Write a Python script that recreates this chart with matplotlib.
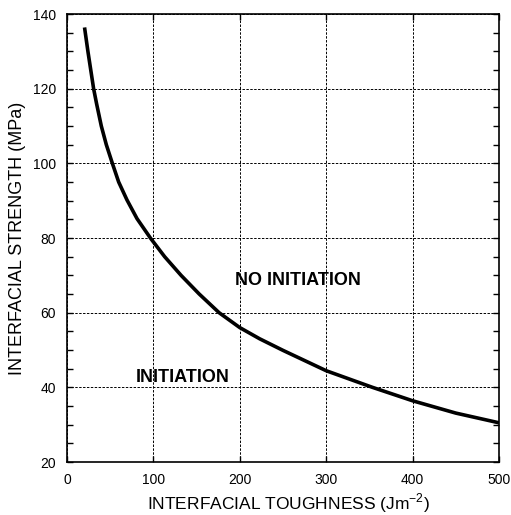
import matplotlib
matplotlib.use("Agg")
import matplotlib.pyplot as plt
from matplotlib.ticker import MultipleLocator

toughness = [20.3, 24.2, 30.8, 34.3, 39.7, 45.5, 52.5, 59.8, 69.4, 81, 96.5, 113, 132, 153, 176,
             200, 223, 250, 300, 353.5, 400, 450, 500]
strength = [136.4, 130, 120, 115.9, 110, 105, 100, 95, 90.2, 85.2, 80, 75, 70, 65, 60,
            56, 53.0, 49.9, 44.45, 40, 36.4, 33.1, 30.5]

xticks = [0, 100, 200, 300, 400, 500]
yticks = [20, 40, 60, 80, 100, 120, 140]

plt.rcParams['font.family'] = ['Liberation Sans', 'DejaVu Sans']
plt.rcParams['mathtext.fontset'] = 'custom'
plt.rcParams['mathtext.rm'] = 'Liberation Sans'

fig = plt.figure(figsize=(5.11, 5.15), dpi=100)
ax = fig.add_axes([67/511, 53/515, 432/511, 448/515])

ax.plot(toughness, strength, color='black', lw=2.6, solid_capstyle='butt', solid_joinstyle='round')

ax.set_xlim(0, 500)
ax.set_ylim(20, 140)
ax.set_xticks(xticks)
ax.set_yticks(yticks)
ax.yaxis.set_minor_locator(MultipleLocator(5))
ax.grid(True, which='major', color='black', linestyle=(0, (2.5, 1.5)), linewidth=0.7)
ax.tick_params(which='both', direction='in', top=True, right=True, labelsize=10, width=1)
ax.tick_params(axis='x', pad=8)
ax.tick_params(axis='y', pad=8)
ax.tick_params(which='major', length=4)
ax.tick_params(which='minor', length=4)
for s in ax.spines.values():
    s.set_linewidth(1.2)

ax.set_xlabel(r'INTERFACIAL TOUGHNESS (Jm$^{\mathrm{-2}}$)', fontsize=12.5, labelpad=3)
ax.xaxis.label.set_x(0.512)
ax.set_ylabel('INTERFACIAL STRENGTH (MPa)', fontsize=13, labelpad=5)

ax.text(195, 68.7, 'NO INITIATION', fontsize=13, fontweight='bold', va='center', ha='left')
ax.text(79, 42.5, 'INITIATION', fontsize=13, fontweight='bold', va='center', ha='left')

fig.savefig('out.png', dpi=100)
